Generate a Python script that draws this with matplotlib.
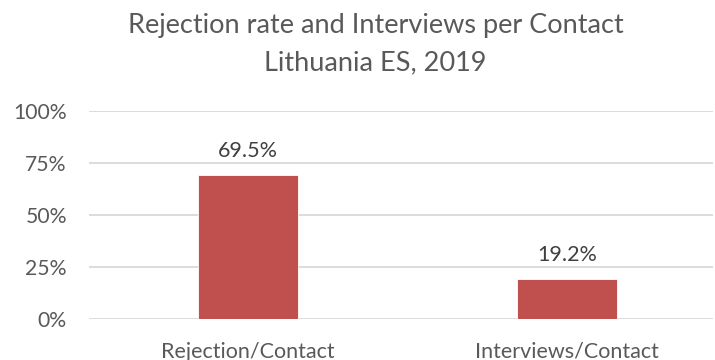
import matplotlib
matplotlib.use("Agg")
import matplotlib.pyplot as plt

categories = ["Rejection/Contact", "Interviews/Contact"]
values = [0.695, 0.192]
value_labels = ["69.5%", "19.2%"]
y_ticks = [0, 0.25, 0.5, 0.75, 1.0]
y_tick_labels = ["0%", "25%", "50%", "75%", "100%"]

plt.rcParams['font.family'] = ['Lato', 'DejaVu Sans']
text_color = "#595959"

fig = plt.figure(figsize=(7.15, 3.6), dpi=100)
ax = fig.add_axes([89 / 715, 40.7 / 360, 624 / 715, 208.3 / 360])

x = list(range(len(categories)))
ax.bar(x, values, width=0.313, color="#C0504D", edgecolor="white", linewidth=0.6, zorder=3)

for xi, v, lab in zip(x, values, value_labels):
    ax.annotate(lab, (xi, v), xytext=(0, 24), textcoords="offset pixels",
                ha="center", va="center", fontsize=15.5, color="#404040")

ax.set_xlim(-0.498, 1.458)
ax.set_ylim(0, 1)
ax.set_yticks(y_ticks)
ax.set_yticklabels(y_tick_labels, fontsize=15.2, color=text_color)
ax.set_xticks(x)
ax.set_xticklabels(categories, fontsize=15.5, color=text_color)
ax.tick_params(axis="both", length=0)
ax.tick_params(axis="y", pad=16)
ax.tick_params(axis="x", pad=16)
ax.yaxis.grid(True, color="#D9D9D9", linewidth=1.3, zorder=0)
ax.set_axisbelow(True)
for s in ax.spines.values():
    s.set_visible(False)

fig.text(0.525, 1 - 33 / 360, "Rejection rate and Interviews per Contact",
         ha="center", va="baseline", fontsize=19.5, color=text_color)
fig.text(0.525, 1 - 70 / 360, "Lithuania ES, 2019",
         ha="center", va="baseline", fontsize=19.5, color=text_color)

fig.savefig("out.png", dpi=100)
